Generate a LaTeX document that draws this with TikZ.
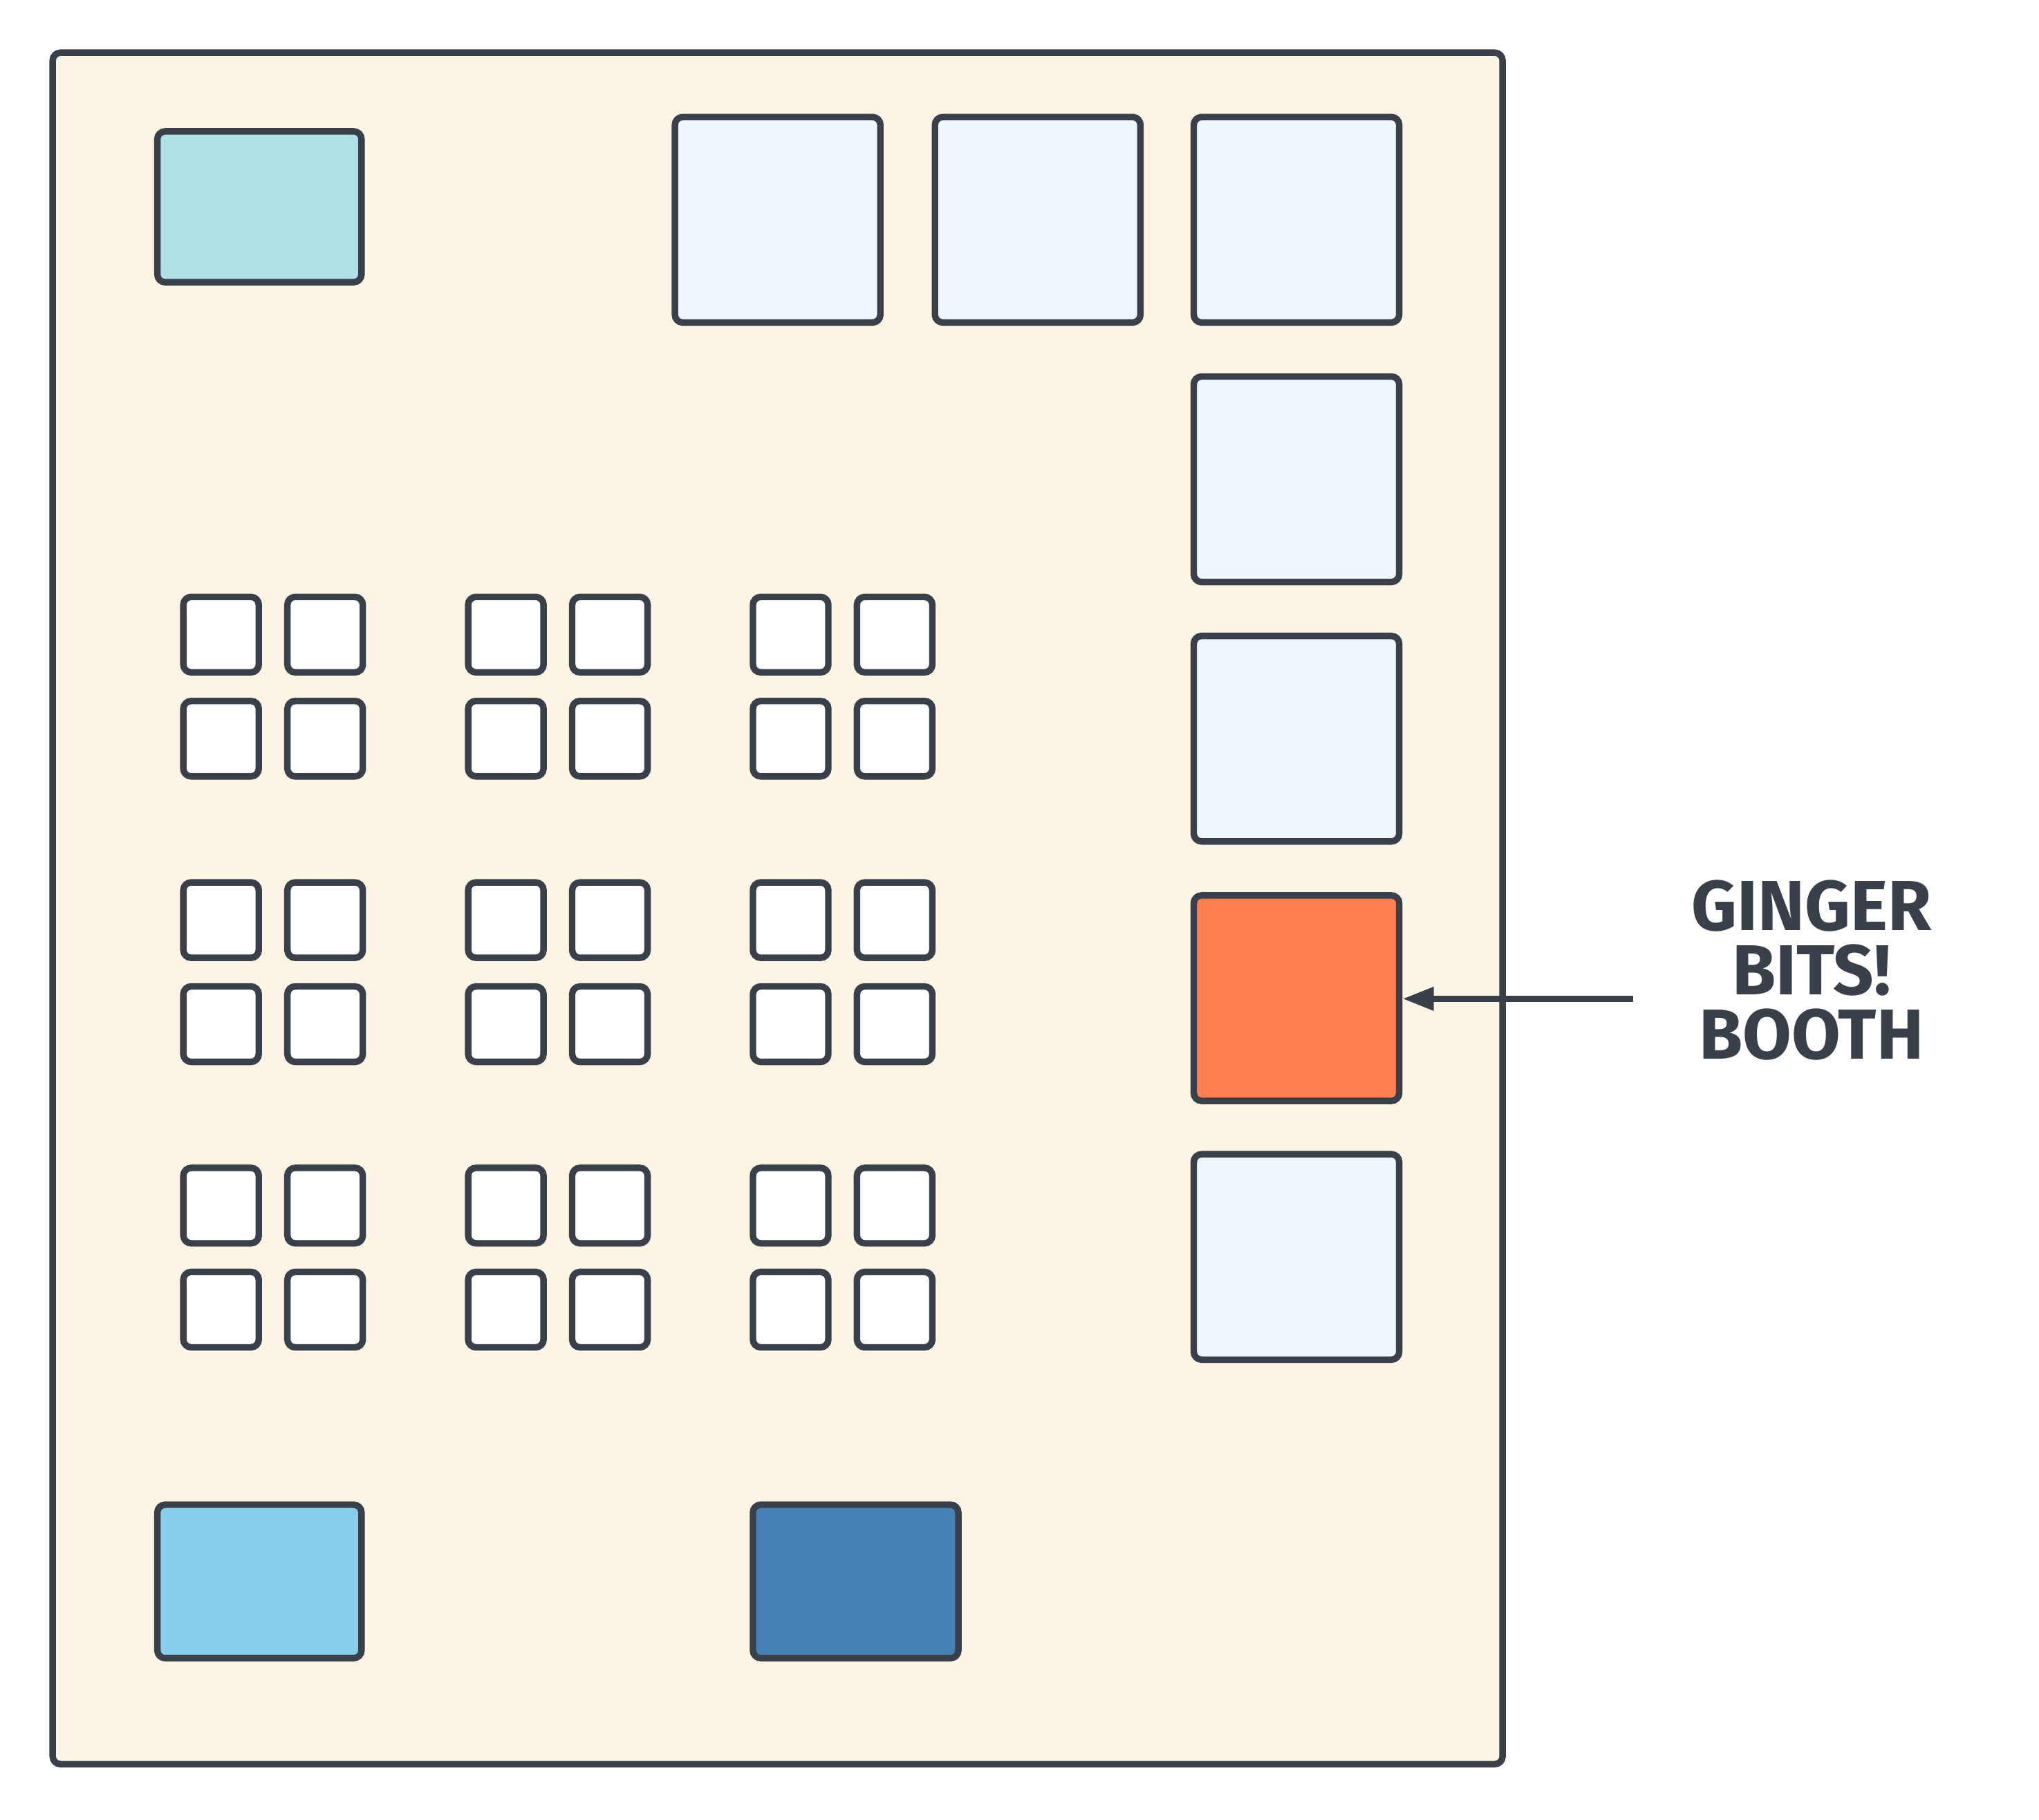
\documentclass[tikz,border=0pt]{standalone}
\usepackage{fontspec}
\setmainfont{Fira Sans}
\usetikzlibrary{arrows.meta}
\definecolor{ink}{HTML}{3A4049}
\definecolor{hall}{HTML}{FCF5E6}
\definecolor{pale}{HTML}{EEF6FE}
\definecolor{powder}{HTML}{B0DFE5}
\definecolor{sky}{HTML}{87CEEB}
\definecolor{steel}{HTML}{4682B4}
\definecolor{ginger}{HTML}{FF7F50}

\begin{document}
\begin{tikzpicture}[x=0.1mm, y=-0.1mm, >={Triangle[length=2.4mm,width=1.7mm]},
    every node/.style={inner sep=0pt},
    box/.style={draw=ink, line width=0.5mm, rounded corners=0.6mm},
    booth/.style={box, fill=pale, minimum width=15.8mm, minimum height=15.8mm},
    seat/.style={box, fill=white, minimum width=5.8mm, minimum height=5.8mm}]
      \useasboundingbox (0,0) rectangle (1568,1399);
      \node[box, fill=hall, minimum width=111.5mm, minimum height=131.6mm] (floor) at (598,698.5) {};
      \node[box, fill=powder, minimum width=15.7mm, minimum height=11.6mm] (entry) at (199.5,159) {};
      % top row
      \node[booth] (b1) at (598,169) {};
      \node[booth] (b2) at (798,169) {};
      \node[booth] (b3) at (997,169) {};
      % right column
      \node[booth] (b4) at (997,368.5) {};
      \node[booth] (b5) at (997,568) {};
      \node[booth, fill=ginger] (ginger) at (997,767.5) {};
      \node[booth] (b7) at (997,966.5) {};
      % tables
      \foreach \c in {0,1,2} {
        \foreach \r in {0,1,2} {
          \foreach \i/\j in {0/0,1/0,0/1,1/1} {
            \node[seat] (s-\c-\r-\i\j) at ({170+\c*219+\i*80},{488+\r*219.5+\j*80}) {};
          }
        }
      }
      \node[box, fill=sky, minimum width=15.7mm, minimum height=11.8mm] (exit) at (199.5,1216) {};
      \node[box, fill=steel, minimum width=15.8mm, minimum height=11.8mm] (stage) at (658,1216) {};
      \node[text=ink, font=\fontsize{15.5}{14.1}\selectfont\bfseries, align=center] (note) at (1393,746) {GINGER\\BITS!\\BOOTH};
      \coordinate (tail) at (1256,768);
      \draw[->, ink, line width=0.5mm] (tail) -- (ginger.east |- tail);
    \end{tikzpicture}
\end{document}
